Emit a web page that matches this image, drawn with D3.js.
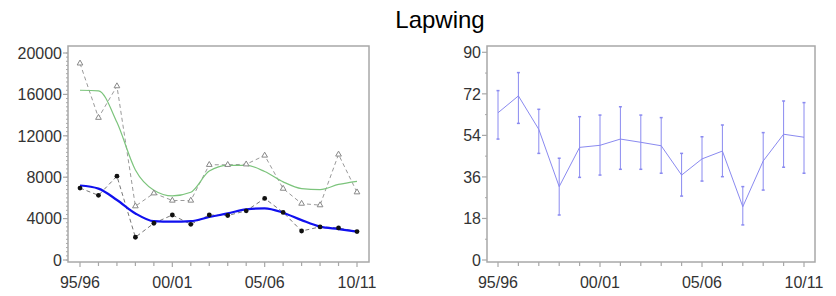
<!DOCTYPE html>
<html>
<head>
<meta charset="utf-8">
<script src="https://cdn.jsdelivr.net/npm/d3@7"></script>
<style>
  body { margin: 0; background: #fff; }
  svg { display: block; font-family: "Liberation Sans", Arial, sans-serif; }
</style>
</head>
<body>
<svg id="chart" width="836" height="296"></svg>
<script>
// Season labels (x categories)
var seasons = ["95/96", "96/97", "97/98", "98/99", "99/00", "00/01", "01/02", "02/03",
    "03/04", "04/05", "05/06", "06/07", "07/08", "08/09", "09/10", "10/11"];
var xTickLabels = ["95/96", "00/01", "05/06", "10/11"];

// Left panel: counts
var triangleCounts = [19000, 13750, 16800, 5200, 6450, 5750, 5750, 9200,
    9200, 9250, 10100, 6900, 5450, 5300, 10200, 6550];
var dotCounts = [6950, 6250, 8100, 2200, 3550, 4350, 3450, 4350,
    4300, 4750, 5950, 4600, 2800, 3200, 3100, 2750];
var greenTrend = [16400, 16350, 13300, 8700, 6750, 6200, 6550, 8600,
    9150, 9150, 8550, 7550, 6900, 6800, 7300, 7600];
var blueTrend = [7200, 6900, 5800, 4500, 3750, 3700, 3750, 4150,
    4500, 4900, 4990, 4570, 3850, 3220, 2990, 2750];
var leftYTicks = [0, 4000, 8000, 12000, 16000, 20000];

// Right panel: index with confidence limits
var indexMean = [63.8, 71.1, 56.6, 31.8, 48.8, 49.7, 52.4, 51.0,
    49.5, 36.8, 43.8, 47.2, 23.1, 42.9, 54.5, 53.2];
var indexLower = [52.4, 59.2, 46.2, 19.5, 35.8, 36.8, 39.3, 39.3,
    37.6, 27.7, 34.2, 36.1, 15.2, 30.3, 40.2, 37.6];
var indexUpper = [73.4, 81.2, 65.3, 44.1, 62.1, 62.8, 66.4, 62.8,
    61.7, 46.2, 53.4, 58.5, 31.8, 55.2, 68.9, 68.2];
var rightYTicks = [0, 18, 36, 54, 72, 90];

var svg = d3.select("#chart");
var axisColor = "#a8a8a8";
var textColor = "#333";

// Title
svg.append("text")
    .attr("x", 440)
    .attr("y", 28)
    .attr("text-anchor", "middle")
    .style("font-size", "24px")
    .style("fill", "#000")
    .text("Lapwing");

// Draws frame, axes and ticks for one panel, returns scales
function drawPanel(opts) {
    var g = svg.append("g");
    var xScale = d3.scalePoint().domain(seasons).range(opts.xRange);
    var yScale = d3.scaleLinear().domain(opts.yDomain).range(opts.yRange);

    // frame
    g.append("rect")
        .attr("x", opts.frame[0])
        .attr("y", opts.frame[1])
        .attr("width", opts.frame[2] - opts.frame[0])
        .attr("height", opts.frame[3] - opts.frame[1])
        .attr("fill", "none")
        .attr("stroke", axisColor)
        .attr("stroke-width", 1.5);

    // y minor ticks
    g.selectAll(".yminor")
        .data(opts.yMinor)
        .enter().append("line")
        .attr("x1", opts.frame[0] - 2)
        .attr("x2", opts.frame[0])
        .attr("y1", d => yScale(d))
        .attr("y2", d => yScale(d))
        .attr("stroke", axisColor)
        .attr("stroke-width", 1);

    // y major ticks + labels
    g.selectAll(".ymajor")
        .data(opts.yTicks)
        .enter().append("line")
        .attr("x1", opts.frame[0] - 5)
        .attr("x2", opts.frame[0])
        .attr("y1", d => yScale(d))
        .attr("y2", d => yScale(d))
        .attr("stroke", axisColor)
        .attr("stroke-width", 1.2);

    g.selectAll(".ylabel")
        .data(opts.yTicks)
        .enter().append("text")
        .attr("x", opts.frame[0] - 6)
        .attr("y", d => yScale(d))
        .attr("dy", "0.36em")
        .attr("text-anchor", "end")
        .style("font-size", "16px")
        .style("fill", textColor)
        .text(d => d);

    // x ticks for each season
    g.selectAll(".xtick")
        .data(seasons)
        .enter().append("line")
        .attr("x1", d => xScale(d))
        .attr("x2", d => xScale(d))
        .attr("y1", opts.frame[3])
        .attr("y2", d => opts.frame[3] + (xTickLabels.indexOf(d) >= 0 ? 5 : 4))
        .attr("stroke", axisColor)
        .attr("stroke-width", 1.2);

    g.selectAll(".xlabel")
        .data(xTickLabels)
        .enter().append("text")
        .attr("x", d => xScale(d))
        .attr("y", 288)
        .attr("text-anchor", "middle")
        .style("font-size", "16px")
        .style("fill", textColor)
        .text(d => d);

    return { g: g, x: xScale, y: yScale };
}

// ---- Left panel ----
var left = drawPanel({
    xRange: [80, 357],
    yDomain: [0, 20000],
    yRange: [260, 53],
    frame: [68, 46, 369, 262],
    yTicks: leftYTicks,
    yMinor: d3.range(0, 20001, 400)
});

var idx = d3.range(seasons.length);
var lx = i => left.x(seasons[i]);

// dashed gray line through triangles
left.g.append("path")
    .datum(idx)
    .attr("fill", "none")
    .attr("stroke", "#9a9a9a")
    .attr("stroke-width", 1)
    .attr("stroke-dasharray", "4,3")
    .attr("d", d3.line().x(lx).y(i => left.y(triangleCounts[i])));

// dashed dark line through dots
left.g.append("path")
    .datum(idx)
    .attr("fill", "none")
    .attr("stroke", "#777")
    .attr("stroke-width", 1)
    .attr("stroke-dasharray", "4,3")
    .attr("d", d3.line().x(lx).y(i => left.y(dotCounts[i])));

// green smoothed trend
left.g.append("path")
    .datum(idx)
    .attr("fill", "none")
    .attr("stroke", "#7cc47c")
    .attr("stroke-width", 1.2)
    .attr("d", d3.line().curve(d3.curveMonotoneX).x(lx).y(i => left.y(greenTrend[i])));

// blue smoothed trend
left.g.append("path")
    .datum(idx)
    .attr("fill", "none")
    .attr("stroke", "#1010ee")
    .attr("stroke-width", 2.2)
    .attr("d", d3.line().curve(d3.curveMonotoneX).x(lx).y(i => left.y(blueTrend[i])));

// triangles
left.g.selectAll(".tri")
    .data(idx)
    .enter().append("path")
    .attr("d", d3.symbol().type(d3.symbolTriangle).size(14))
    .attr("transform", i => "translate(" + lx(i) + "," + left.y(triangleCounts[i]) + ")")
    .attr("fill", "#fff")
    .attr("stroke", "#888")
    .attr("stroke-width", 1);

// dots
left.g.selectAll(".dot")
    .data(idx)
    .enter().append("circle")
    .attr("cx", lx)
    .attr("cy", i => left.y(dotCounts[i]))
    .attr("r", 2.4)
    .attr("fill", "#111");

// ---- Right panel ----
var right = drawPanel({
    xRange: [498, 804],
    yDomain: [0, 90],
    yRange: [260, 52.3],
    frame: [487, 46, 815, 262],
    yTicks: rightYTicks,
    yMinor: d3.range(9, 90, 18)
});

var rx = i => right.x(seasons[i]);
var blueLight = "#8a8af0";

// error bars
right.g.selectAll(".err")
    .data(idx)
    .enter().append("line")
    .attr("x1", rx)
    .attr("x2", rx)
    .attr("y1", i => right.y(indexLower[i]))
    .attr("y2", i => right.y(indexUpper[i]))
    .attr("stroke", blueLight)
    .attr("stroke-width", 1);

// caps
["lo", "hi"].forEach(function (k) {
    right.g.selectAll(".cap-" + k)
        .data(idx)
        .enter().append("line")
        .attr("x1", i => rx(i) - 1.5)
        .attr("x2", i => rx(i) + 1.5)
        .attr("y1", i => right.y(k === "lo" ? indexLower[i] : indexUpper[i]))
        .attr("y2", i => right.y(k === "lo" ? indexLower[i] : indexUpper[i]))
        .attr("stroke", blueLight)
        .attr("stroke-width", 1.5);
});

// index line
right.g.append("path")
    .datum(idx)
    .attr("fill", "none")
    .attr("stroke", blueLight)
    .attr("stroke-width", 1)
    .attr("d", d3.line().x(rx).y(i => right.y(indexMean[i])));
</script>
</body>
</html>
